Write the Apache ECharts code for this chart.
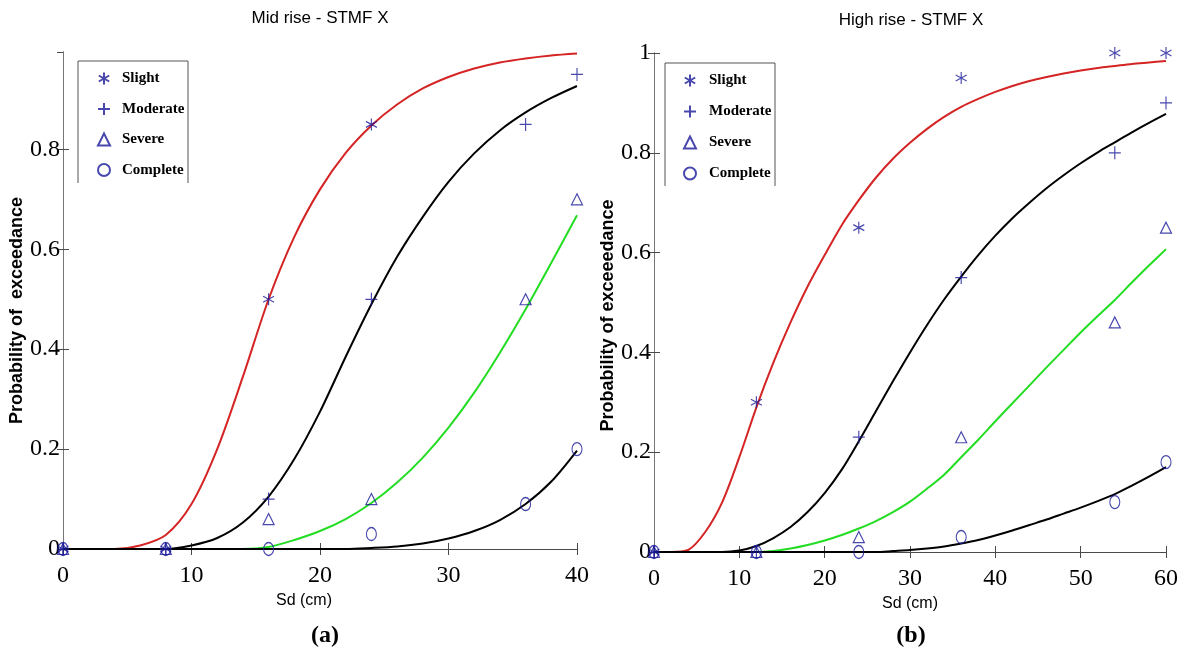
<!DOCTYPE html>
<html>
<head>
<meta charset="utf-8">
<script src="https://cdn.jsdelivr.net/npm/echarts@6/dist/echarts.min.js"></script>
<style>
html,body{margin:0;padding:0;background:#fff;}
#c{width:1183px;height:651px;}
</style>
</head>
<body>
<div id="c"></div>
<script>
// ---------- Mid rise (a) : observed points ----------
const midPtsX      = [0, 8, 16, 24, 36, 40];
const midSlight    = [0, 0, 0.5, 0.85, null, null];
const midModerate  = [0, 0, 0.1, 0.5, 0.85, 0.95];
const midSevere    = [0, 0, 0.06, 0.1, 0.5, 0.7];
const midComplete  = [0, 0, 0, 0.03, 0.09, 0.2];

// ---------- Mid rise (a) : fitted curves ----------
const midFitX         = [0, 2, 4, 6, 8, 10, 12, 14, 16, 18, 20, 22, 24, 26, 28, 30, 32, 34, 36, 38, 40];
const midSlightFitY   = [0, 0, 0, 0.007, 0.028, 0.09, 0.2, 0.345, 0.5, 0.625, 0.72, 0.793, 0.848, 0.89, 0.922, 0.945, 0.962, 0.974, 0.982, 0.988, 0.992];
const midModerateFitY = [0, 0, 0, 0, 0, 0.007, 0.022, 0.053, 0.105, 0.18, 0.275, 0.385, 0.49, 0.585, 0.665, 0.735, 0.792, 0.838, 0.874, 0.903, 0.927];
const midSevereFitY   = [0, 0, 0, 0, 0, 0, 0, 0, 0.004, 0.018, 0.036, 0.06, 0.092, 0.133, 0.183, 0.243, 0.313, 0.393, 0.48, 0.573, 0.668];
const midCompleteFitY = [0, 0, 0, 0, 0, 0, 0, 0, 0, 0, 0, 0, 0.002, 0.005, 0.011, 0.021, 0.036, 0.058, 0.09, 0.135, 0.197];

// ---------- High rise (b) : observed points ----------
const highPtsX      = [0, 12, 24, 36, 54, 60];
const highSlight    = [0, 0.3, 0.65, 0.95, 1.0, 1.0];
const highModerate  = [0, 0, 0.23, 0.55, 0.8, 0.9];
const highSevere    = [0, 0, 0.03, 0.23, 0.46, 0.65];
const highComplete  = [0, 0, 0, 0.03, 0.1, 0.18];

// ---------- High rise (b) : fitted curves ----------
const highFitX         = [0, 2, 4, 6, 8, 10, 12, 14, 16, 18, 20, 22, 24, 26, 28, 30, 32, 34, 36, 38, 40, 42, 44, 46, 48, 50, 52, 54, 56, 58, 60];
const highSlightFitY   = [0, 0, 0.004, 0.04, 0.1, 0.19, 0.29, 0.38, 0.46, 0.532, 0.595, 0.655, 0.705, 0.75, 0.788, 0.82, 0.848, 0.872, 0.892, 0.908, 0.922, 0.934, 0.944, 0.952, 0.959, 0.965, 0.97, 0.974, 0.978, 0.981, 0.984];
const highModerateFitY = [0, 0, 0, 0, 0, 0.003, 0.012, 0.028, 0.05, 0.08, 0.118, 0.165, 0.222, 0.282, 0.342, 0.4, 0.455, 0.506, 0.552, 0.595, 0.634, 0.669, 0.7, 0.729, 0.755, 0.779, 0.801, 0.821, 0.841, 0.86, 0.878];
const highSevereFitY   = [0, 0, 0, 0, 0, 0, 0, 0.002, 0.007, 0.014, 0.023, 0.034, 0.047, 0.062, 0.08, 0.101, 0.127, 0.155, 0.19, 0.225, 0.262, 0.298, 0.334, 0.37, 0.405, 0.44, 0.473, 0.505, 0.54, 0.574, 0.607];
const highCompleteFitY = [0, 0, 0, 0, 0, 0, 0, 0, 0, 0, 0, 0, 0, 0, 0.002, 0.004, 0.007, 0.011, 0.017, 0.024, 0.033, 0.043, 0.054, 0.065, 0.077, 0.089, 0.102, 0.116, 0.133, 0.151, 0.17];

// ---------- labels ----------
const damageStates = ['Slight', 'Moderate', 'Severe', 'Complete'];
const titleA = 'Mid rise - STMF X';
const titleB = 'High rise - STMF X';
const yNameA = 'Probability of  exceedance';
const yNameB = 'Probability of exceeedance';
const xName = 'Sd (cm)';

const pair = (xs, ys) => xs.map((x, i) => ys[i] == null ? null : [x, ys[i]]).filter(d => d);

const BLUE = '#1a1a9a';
const RED = '#d42424';
const GREEN = '#22dd22';
const BLACK = '#000000';
const FRAME = '#4a4a4a';

const symAst = 'path://M5 0L5 10M0.67 2.5L9.33 7.5M0.67 7.5L9.33 2.5';
const symPlus = 'path://M5 0L5 10M0 5L10 5';
const markerDefs = [
  {symbol: symAst, size: [11, 12]},
  {symbol: symPlus, size: [12, 13]},
  {symbol: 'triangle', size: [11, 11]},
  {symbol: 'circle', size: [10, 13]}
];

function curve(name, xs, ys, color, gi) {
  return {
    type: 'line', name: name, xAxisIndex: gi * 2, yAxisIndex: gi * 2,
    data: pair(xs, ys), smooth: 0.3, showSymbol: false, symbol: 'none',
    lineStyle: {color: color, width: 2}, clip: true, z: 2, silent: true
  };
}
function pts(i, xs, ys, gi) {
  const m = markerDefs[i];
  return {
    type: 'scatter', name: damageStates[i], xAxisIndex: gi * 2, yAxisIndex: gi * 2,
    data: pair(xs, ys), symbol: m.symbol, symbolSize: m.size, clip: false, z: 5,
    itemStyle: {color: 'rgba(0,0,0,0)', borderColor: BLUE, borderWidth: 1.2}
  };
}

const tickFont = {fontFamily: "'Liberation Serif','Times New Roman',serif", fontSize: 24, color: '#000'};

function xAxes(gi, max, nameOffset) {
  return [
    {
      type: 'value', gridIndex: gi, position: 'bottom', min: 0, max: max, interval: 10,
      name: xName, nameLocation: 'middle', nameGap: 43,
      nameTextStyle: {fontFamily: "'Liberation Sans',Arial,sans-serif", fontSize: 16, color: '#000',
        padding: nameOffset},
      axisLine: {show: true, lineStyle: {color: FRAME, width: 1}},
      axisTick: {show: true, inside: true, length: 6, lineStyle: {color: FRAME}},
      axisLabel: Object.assign({margin: 15}, tickFont),
      splitLine: {show: false}
    },
    {
      type: 'value', gridIndex: gi, position: 'top', min: 0, max: max, interval: 10,
      axisLine: {show: true, lineStyle: {color: FRAME, width: 1}},
      axisTick: {show: true, inside: true, length: 6, lineStyle: {color: FRAME}},
      axisLabel: {show: false}, splitLine: {show: false}
    }
  ];
}
function yAxes(gi, max, name, pad) {
  return [
    {
      type: 'value', gridIndex: gi, position: 'left', min: 0, max: max, interval: 0.2,
      name: name, nameLocation: 'middle', nameGap: 35,
      nameTextStyle: {fontFamily: "'Liberation Sans',Arial,sans-serif", fontSize: 18, fontWeight: 'bold', color: '#000',
        padding: pad},
      axisLine: {show: true, lineStyle: {color: FRAME, width: 1}},
      axisTick: {show: true, inside: true, length: 6, lineStyle: {color: FRAME}},
      axisLabel: Object.assign({margin: 3, showMaxLabel: max === 1, formatter: v => String(+v.toFixed(2))}, tickFont),
      splitLine: {show: false}
    },
    {
      type: 'value', gridIndex: gi, position: 'right', min: 0, max: max, interval: 0.2,
      axisLine: {show: true, lineStyle: {color: '#777', width: 1}},
      axisTick: {show: true, inside: true, length: 6, lineStyle: {color: FRAME}},
      axisLabel: {show: false}, splitLine: {show: false}
    }
  ];
}

const legendText = {fontFamily: "'Liberation Serif','Times New Roman',serif", fontSize: 15, fontWeight: 'bold', color: '#000'};

const option = {
  backgroundColor: '#fff',
  animation: false,
  grid: [
    {left: 63, right: 606, top: 52, bottom: 102},
    {left: 654, right: 17, top: 53, bottom: 99}
  ],
  xAxis: [].concat(xAxes(0, 40, [0, 32, 0, 0]), xAxes(1, 60, [0, 0, 0, 0])),
  yAxis: [].concat(yAxes(0, 0.995, yNameA, [0, 20, 0, 0]), yAxes(1, 1, yNameB, [0, 26, 0, 0])),
  legend: [
    {
      data: damageStates, orient: 'vertical', left: 97, top: 71, padding: 0,
      itemWidth: 12, itemHeight: 12, itemGap: 15.5, textStyle: Object.assign({padding: [0, 0, 0, 7]}, legendText),
      selectedMode: false
    },
    {
      data: damageStates, orient: 'vertical', left: 683, top: 73, padding: 0,
      itemWidth: 12, itemHeight: 12, itemGap: 16, textStyle: Object.assign({padding: [0, 0, 0, 8]}, legendText),
      selectedMode: false
    }
  ],
  graphic: [
    {type: 'polyline', shape: {points: [[78, 183], [78, 61], [188, 61], [188, 183]]}, style: {stroke: '#555', fill: null, lineWidth: 1}, silent: true},
    {type: 'polyline', shape: {points: [[665, 186], [665, 63], [775, 63], [775, 186]]}, style: {stroke: '#555', fill: null, lineWidth: 1}, silent: true},
    {type: 'text', x: 320, y: 18, style: {text: titleA, align: 'center', verticalAlign: 'middle', font: "17px 'Liberation Sans', Arial, sans-serif", fill: '#000'}},
    {type: 'text', x: 911, y: 20, style: {text: titleB, align: 'center', verticalAlign: 'middle', font: "17px 'Liberation Sans', Arial, sans-serif", fill: '#000'}},
    {type: 'text', x: 325, y: 636, style: {text: '(a)', align: 'center', verticalAlign: 'middle', font: "bold 24px 'Liberation Serif', 'Times New Roman', serif", fill: '#000'}},
    {type: 'text', x: 911, y: 636, style: {text: '(b)', align: 'center', verticalAlign: 'middle', font: "bold 24px 'Liberation Serif', 'Times New Roman', serif", fill: '#000'}}
  ],
  series: [
    curve('fitA1', midFitX, midSlightFitY, RED, 0),
    curve('fitA2', midFitX, midModerateFitY, BLACK, 0),
    curve('fitA3', midFitX, midSevereFitY, GREEN, 0),
    curve('fitA4', midFitX, midCompleteFitY, BLACK, 0),
    pts(0, midPtsX, midSlight, 0),
    pts(1, midPtsX, midModerate, 0),
    pts(2, midPtsX, midSevere, 0),
    pts(3, midPtsX, midComplete, 0),
    curve('fitB1', highFitX, highSlightFitY, RED, 1),
    curve('fitB2', highFitX, highModerateFitY, BLACK, 1),
    curve('fitB3', highFitX, highSevereFitY, GREEN, 1),
    curve('fitB4', highFitX, highCompleteFitY, BLACK, 1),
    pts(0, highPtsX, highSlight, 1),
    pts(1, highPtsX, highModerate, 1),
    pts(2, highPtsX, highSevere, 1),
    pts(3, highPtsX, highComplete, 1)
  ]
};

const chart = echarts.init(document.getElementById('c'), null, {renderer: 'canvas'});
chart.setOption(option);
</script>
</body>
</html>
